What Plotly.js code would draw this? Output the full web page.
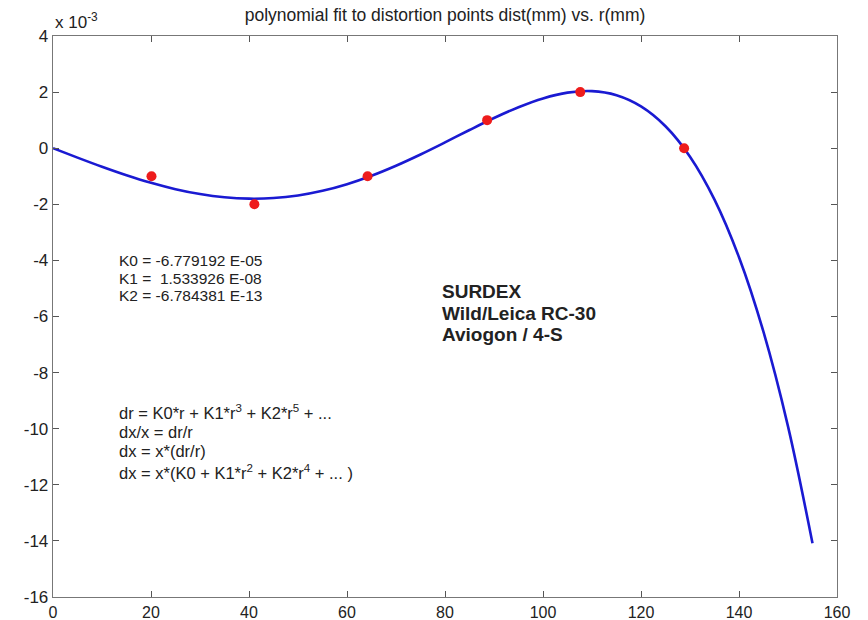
<!DOCTYPE html>
<html>
<head>
<meta charset="utf-8">
<script src="https://cdn.plot.ly/plotly-3.0.1.min.js"></script>
<style>html,body{margin:0;padding:0;background:#fff;}#chart{width:868px;height:620px;}</style>
</head>
<body>
<div id="chart"></div>
<script>
// Fitted curve: r (mm) and dist (x 10^-3 mm)
const curveR = [0, 5, 10, 15, 20, 25, 30, 35, 40, 45, 50, 55, 60, 65, 70, 75, 80, 85, 90, 95, 100, 105, 110, 115, 120, 125, 130, 135, 140, 145, 150, 155];
const curveDist = [0, -0.337, -0.663, -0.966, -1.235, -1.462, -1.636, -1.751, -1.799, -1.778, -1.684, -1.518, -1.282, -0.981, -0.624, -0.223, 0.207, 0.648, 1.075, 1.462, 1.776, 1.980, 2.033, 1.887, 1.489, 0.781, -0.303, -1.833, -3.888, -6.550, -9.918, -14.084];
// Distortion points
const pointR = [20.1, 41.1, 64.2, 88.6, 107.6, 128.8];
const pointDist = [-1, -2, -1, 1, 2, 0];
// Axis ticks
const xTicks = [0, 20, 40, 60, 80, 100, 120, 140, 160];
const yTicks = [-16, -14, -12, -10, -8, -6, -4, -2, 0, 2, 4];
// Text
const titleText = 'polynomial fit to distortion points dist(mm) vs. r(mm)';
const coefLines = ['K0 = -6.779192 E-05', 'K1 =  1.533926 E-08', 'K2 = -6.784381 E-13'];
const cameraLines = ['SURDEX', 'Wild/Leica RC-30', 'Aviogon / 4-S'];
const formulaLines = ['dr = K0*r + K1*r<sup>3</sup> + K2*r<sup>5</sup> + ...', 'dx/x = dr/r', 'dx = x*(dr/r)', 'dx = x*(K0 + K1*r<sup>2</sup> + K2*r<sup>4</sup> + ... )'];

const FONT = 'Liberation Sans, Arial, sans-serif';
const TXT = '#222';
const traces = [
  {x: curveR, y: curveDist, type: 'scatter', mode: 'lines', line: {color: '#1a1ad2', width: 2.6, shape: 'spline'}, hoverinfo: 'skip'},
  {x: pointR, y: pointDist, type: 'scatter', mode: 'markers', marker: {color: '#ee1c1c', size: 10}}
];

const annotations = [];
const coefY = [-4.0, -4.628, -5.256];
coefLines.forEach((t, i) => annotations.push({x: 13.3, y: coefY[i], xref: 'x', yref: 'y', text: t, showarrow: false, xanchor: 'left', yanchor: 'middle', borderpad: 0, font: {family: FONT, size: 15.5, color: TXT}}));
const camY = [-5.12, -5.88, -6.64];
cameraLines.forEach((t, i) => annotations.push({x: 79.0, y: camY[i], xref: 'x', yref: 'y', text: '<b>' + t + '</b>', showarrow: false, xanchor: 'left', yanchor: 'middle', font: {family: FONT, size: 19, color: TXT}}));
const formY = [-9.42, -10.13, -10.8, -11.55];
formulaLines.forEach((t, i) => annotations.push({x: 13.1, y: formY[i], xref: 'x', yref: 'y', text: t, showarrow: false, xanchor: 'left', yanchor: 'middle', font: {family: FONT, size: 16.5, color: TXT}}));
annotations.push({x: 0, y: 1.026, xref: 'paper', yref: 'paper', text: 'x 10<sup>-3</sup>', showarrow: false, xanchor: 'left', yanchor: 'middle', font: {family: FONT, size: 17, color: TXT}});

const layout = {
  width: 868, height: 620,
  margin: {l: 53, r: 31, t: 36, b: 23, pad: 0},
  paper_bgcolor: '#fff', plot_bgcolor: '#fff',
  showlegend: false,
  title: {text: titleText, x: 0.5, xref: 'paper', xanchor: 'center', y: 0.976, yanchor: 'middle', font: {family: FONT, size: 17.5, color: TXT}},
  xaxis: {range: [0, 160], tickvals: xTicks, ticktext: xTicks.map(String), showgrid: false, zeroline: false, showline: true, mirror: 'ticks', linecolor: '#777', linewidth: 1.3, ticks: 'inside', ticklen: 6, tickcolor: '#555', tickfont: {family: FONT, size: 16, color: TXT}},
  yaxis: {range: [-16, 4], tickvals: yTicks, ticktext: yTicks.map(String), showgrid: false, zeroline: false, showline: true, mirror: 'ticks', linecolor: '#777', linewidth: 1.3, ticks: 'inside', ticklen: 6, tickcolor: '#555', tickfont: {family: FONT, size: 17, color: TXT}},
  annotations: annotations
};
Plotly.newPlot('chart', traces, layout, {staticPlot: true, displayModeBar: false});
</script>
</body>
</html>
